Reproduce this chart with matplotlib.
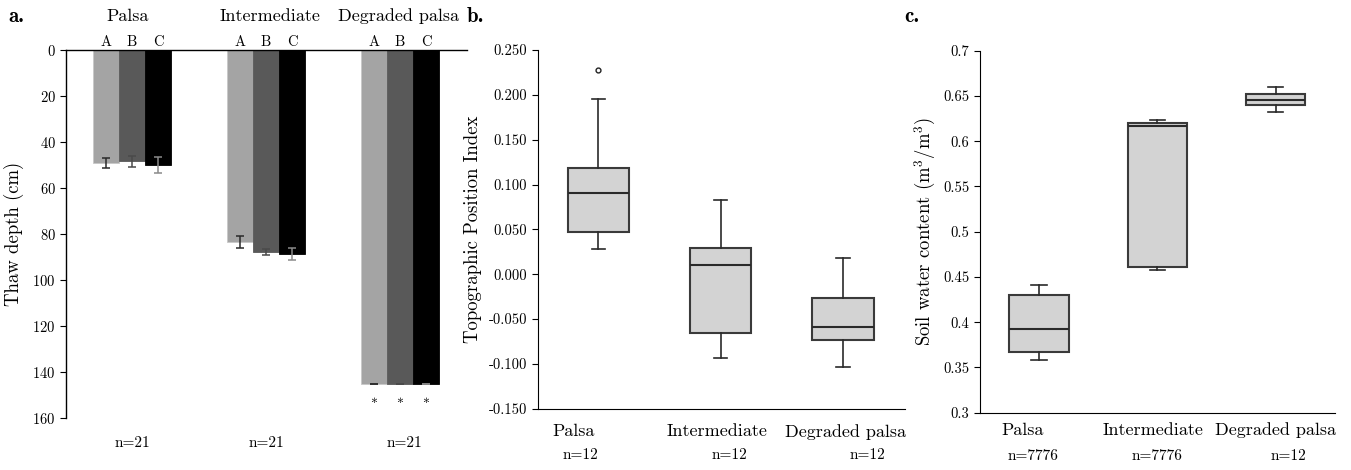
import numpy as np
import matplotlib
matplotlib.use("Agg")
from matplotlib import pyplot as plt
from matplotlib import transforms

plt.rcParams['font.family'] = ['cmr10', 'DejaVu Serif']
plt.rcParams['mathtext.fontset'] = 'cm'
plt.rcParams['axes.formatter.use_mathtext'] = True

# panel a data: thaw depth (cm) per site, three transects A B C
groups = ['Palsa', 'Intermediate', 'Degraded palsa']
transects = ['A', 'B', 'C']
thaw_A = [49.3, 83.5, 145.3]
thaw_B = [48.4, 88.0, 145.3]
thaw_C = [49.9, 88.7, 145.3]
err_A = [2.2, 2.5, 0.0]
err_B = [2.5, 1.3, 0.0]
err_C = [3.4, 2.5, 0.0]
n_a = ['n=21', 'n=21', 'n=21']

# panel b data: topographic position index
tpi_whislo = [0.028, -0.093, -0.104]
tpi_q1 = [0.047, -0.066, -0.073]
tpi_med = [0.091, 0.010, -0.059]
tpi_q3 = [0.118, 0.029, -0.026]
tpi_whishi = [0.195, 0.083, 0.018]
tpi_fliers = [[0.228], [], []]
n_b = ['n=12', 'n=12', 'n=12']

# panel c data: soil water content
swc_whislo = [0.358, 0.458, 0.632]
swc_q1 = [0.367, 0.461, 0.640]
swc_med = [0.3925, 0.617, 0.645]
swc_q3 = [0.430, 0.620, 0.6525]
swc_whishi = [0.441, 0.623, 0.660]
n_c = ['n=7776', 'n=7776', 'n=12']

fig = plt.figure(figsize=(13.51, 4.70), dpi=100)
W, H = 1351.0, 470.0

def box(l, r, t, b):
    return [l / W, 1 - b / H, (r - l) / W, (b - t) / H]

# ---------------- panel a ----------------
ax1 = fig.add_axes(box(66, 467, 50, 418))
x = np.arange(3)
bw = 0.194
bar_cols = ['#a4a4a4', '#595959', '#000000']
err_cols = ['#2a2a2a', '#4a4a4a', '#8a8a8a']
for i, (vals, errs) in enumerate([(thaw_A, err_A), (thaw_B, err_B), (thaw_C, err_C)]):
    ax1.bar(x + (i - 1) * bw, vals, bw, color=bar_cols[i], edgecolor='#c8c8c8' if i == 0 else bar_cols[i],
            linewidth=0.6, yerr=errs, error_kw=dict(ecolor=err_cols[i], elinewidth=1.1, capsize=3, capthick=1.1))
ax1.set_xlim(-0.4925, 2.5)
ax1.set_ylim(160, 0)
ax1.set_yticks(np.arange(0, 161, 20))
ax1.set_xticks([])
ax1.spines['bottom'].set_visible(False)
ax1.spines['right'].set_visible(False)
ax1.spines['top'].set_linewidth(1.0)
ax1.spines['left'].set_linewidth(1.0)
ax1.tick_params(axis='y', labelsize=10.5, length=4, direction='out')
ax1.set_ylabel('Thaw depth (cm)', fontsize=13.5, labelpad=6)
gx = [-0.03, 1.03, 1.99]
for g, xx in zip(groups, gx):
    ax1.text(xx, -14.8, g, ha='center', va='center', fontsize=13, clip_on=False)
for gi in range(3):
    for i, t in enumerate(transects):
        ax1.text(gi + (i - 1) * bw, -3.6, t, ha='center', va='center', fontsize=10.5, clip_on=False)
for i in range(3):
    ax1.text(2 + (i - 1) * bw, 154.5, '*', ha='center', va='center', fontsize=10, clip_on=False)
for nn, xx in zip(n_a, [0.0, 1.0, 2.03]):
    ax1.text(xx, 171, nn, ha='center', va='center', fontsize=11, clip_on=False)

boxprops = dict(facecolor='#d3d3d3', edgecolor='#3a3a3a', linewidth=1.5)
lineprops = dict(color='#2a2a2a', linewidth=1.2)

def style_box(ax):
    ax.spines['top'].set_visible(False)
    ax.spines['right'].set_visible(False)
    ax.set_xticks([])
    ax.tick_params(axis='y', labelsize=10.5, length=4, direction='out')

# ---------------- panel b ----------------
ax2 = fig.add_axes(box(537.7, 905, 50, 408.7))
stats_b = []
for i in range(3):
    stats_b.append(dict(med=tpi_med[i], q1=tpi_q1[i], q3=tpi_q3[i], whislo=tpi_whislo[i],
                        whishi=tpi_whishi[i], fliers=tpi_fliers[i]))
ax2.bxp(stats_b, positions=[1, 2, 3], widths=0.5, capwidths=0.11, patch_artist=True,
        boxprops=boxprops, medianprops=dict(color='#2a2a2a', linewidth=1.5),
        whiskerprops=lineprops, capprops=lineprops,
        flierprops=dict(marker='o', markersize=3.5, markerfacecolor='white', markeredgecolor='#222',
                        markeredgewidth=1.0))
ax2.set_xlim(0.503, 3.507)
ax2.set_ylim(-0.150, 0.250)
bt = np.round(np.arange(-0.150, 0.2501, 0.05), 3)
ax2.set_yticks(bt)
ax2.set_yticklabels(['%.3f' % v if v != 0 else '0.000' for v in bt])
style_box(ax2)
ax2.set_ylabel('Topographic Position Index', fontsize=13.5, labelpad=5)
tb = transforms.blended_transform_factory(ax2.transData, ax2.transAxes)
for g, xx in zip(groups, [0.80, 1.97, 3.02]):
    ax2.text(xx, -0.064, g, transform=tb, ha='center', va='center', fontsize=13, clip_on=False)
for nn, xx in zip(n_b, [0.85, 2.07, 3.20]):
    ax2.text(xx, -0.129, nn, transform=tb, ha='center', va='center', fontsize=11, clip_on=False)

# ---------------- panel c ----------------
ax3 = fig.add_axes(box(980, 1335, 50.7, 412.7))
stats_c = []
for i in range(3):
    stats_c.append(dict(med=swc_med[i], q1=swc_q1[i], q3=swc_q3[i], whislo=swc_whislo[i],
                        whishi=swc_whishi[i], fliers=[]))
ax3.bxp(stats_c, positions=[1, 2, 3], widths=0.5, capwidths=0.13, patch_artist=True,
        boxprops=boxprops, medianprops=dict(color='#2a2a2a', linewidth=1.5),
        whiskerprops=lineprops, capprops=lineprops)
ax3.set_xlim(0.501, 3.503)
ax3.set_ylim(0.3, 0.7)
ct = np.round(np.arange(0.3, 0.7001, 0.05), 2)
ax3.set_yticks(ct)
ax3.set_yticklabels(['%g' % v for v in ct])
style_box(ax3)
ax3.set_ylabel('Soil water content (m$^3$/m$^3$)', fontsize=13.5, labelpad=4)
tc = transforms.blended_transform_factory(ax3.transData, ax3.transAxes)
for g, xx in zip(groups, [0.86, 1.96, 3.0]):
    ax3.text(xx, -0.048, g, transform=tc, ha='center', va='center', fontsize=13, clip_on=False)
for nn, xx in zip(n_c, [0.95, 2.0, 3.11]):
    ax3.text(xx, -0.12, nn, transform=tc, ha='center', va='center', fontsize=11, clip_on=False)

# panel letters
for lab, px in [('a.', 8), ('b.', 467), ('c.', 904)]:
    fig.text(px / W, 1 - 17 / H, lab, fontsize=15, fontweight='bold', family=['cmb10', 'DejaVu Serif'],
             ha='left', va='center')

fig.savefig('out.png', dpi=100)
